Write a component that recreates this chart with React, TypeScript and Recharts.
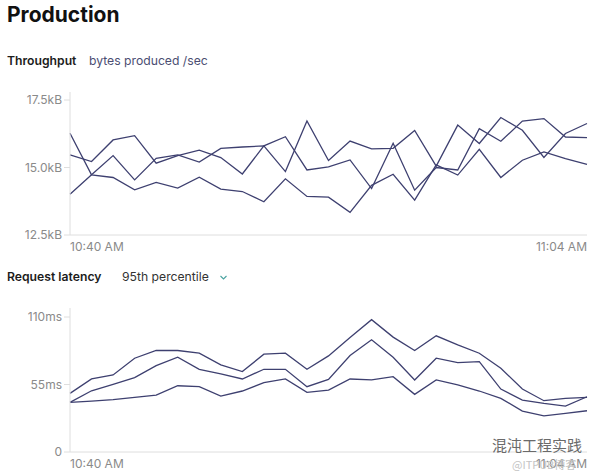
import React from 'react'
import { LineChart, Line, XAxis, YAxis } from 'recharts'

const times = [
  '10:40 AM', '10:41 AM', '10:42 AM', '10:43 AM', '10:44 AM', '10:45 AM', '10:46 AM',
  '10:47 AM', '10:48 AM', '10:49 AM', '10:50 AM', '10:51 AM', '10:52 AM', '10:53 AM',
  '10:54 AM', '10:55 AM', '10:56 AM', '10:57 AM', '10:58 AM', '10:59 AM', '11:00 AM',
  '11:01 AM', '11:02 AM', '11:03 AM', '11:04 AM',
]
const edgeTicks = ['10:40 AM', '11:04 AM']

// throughput, kB/sec
const throughputA = [
  16.27, 14.73, 14.63, 14.17, 14.45, 14.24, 14.64, 14.2, 14.11, 13.73, 14.58, 13.93, 13.9,
  13.34, 14.34, 14.75, 13.79, 15.1, 14.72, 15.67, 14.63, 15.27, 15.58, 15.33, 15.12,
]
const throughputB = [
  15.47, 15.22, 16.02, 16.18, 15.16, 15.44, 15.64, 15.37, 14.76, 15.8, 16.14, 14.91, 15.02,
  15.28, 14.22, 15.9, 14.16, 15.0, 14.91, 16.44, 15.97, 16.72, 16.81, 16.13, 16.11,
]
const throughputC = [
  14.01, 14.73, 15.44, 14.54, 15.34, 15.47, 15.2, 15.71, 15.76, 15.8, 14.85, 16.72, 15.26,
  15.98, 15.69, 15.71, 16.37, 15.05, 16.57, 15.89, 16.85, 16.38, 15.37, 16.26, 16.63,
]
const throughputTicks = [12.5, 15, 17.5]

// request latency p95, ms
const latencyHigh = [
  47.8, 59.5, 62.8, 76.4, 82.7, 82.7, 80.5, 71, 65.5, 79.7, 80.5, 67.4, 78.3,
  93.3, 107.8, 93.6, 82.7, 94.7, 87.3, 80.5, 68.2, 51.3, 41.8, 43.7, 44.5,
]
const latencyMid = [
  40.4, 49.9, 55.1, 60.6, 70.4, 77.2, 67.4, 63.6, 59.5, 67.4, 67.4, 53.2, 59.2,
  78.6, 91.4, 77.2, 58.7, 76.4, 72.9, 73.7, 51.3, 42.3, 39.6, 37.4, 45,
]
const latencyLow = [
  40.4, 41.5, 42.6, 44.5, 46.4, 54, 53.2, 45.6, 49.7, 56.5, 59.5, 48.6, 50.5,
  59.5, 58.7, 61.4, 47, 58.7, 54.6, 49.7, 43.7, 33.3, 29.5, 31.4, 33.6,
]
const latencyTicks = [0, 55, 110]

const throughputData = times.map((t, i) => ({
  time: t, a: throughputA[i], b: throughputB[i], c: throughputC[i],
}))
const latencyData = times.map((t, i) => ({
  time: t, high: latencyHigh[i], mid: latencyMid[i], low: latencyLow[i],
}))

const FONT = 'Inter, "Noto Sans", sans-serif'
const LINE = '#3e4070'
const AXIS = '#dedede'
const TICK = '#8a8a8a'

const TimeTick = (props: any) => {
  const { x, y, payload } = props
  const first = payload.value === edgeTicks[0]
  return (
    <text x={x} y={y + 8} textAnchor={first ? 'start' : 'end'} fill={TICK} fontSize={12} fontFamily={FONT}>
      {payload.value}
    </text>
  )
}

const chartMargin = { top: 7, right: 13, left: 0, bottom: 6 }

export default function App() {
  return (
    <div style={{ position: 'absolute', left: 0, top: 0, width: 600, height: 476, background: '#fff', fontFamily: FONT }}>
      <div style={{ position: 'absolute', left: 7, top: 4, fontSize: 21, fontWeight: 700, lineHeight: '21px', color: '#111' }}>
        Production
      </div>
      <div style={{ position: 'absolute', left: 7, top: 55, fontSize: 12.2, fontWeight: 600, lineHeight: '12px', color: '#1c1c1c' }}>
        Throughput
      </div>
      <div style={{ position: 'absolute', left: 89, top: 55, fontSize: 12.2, lineHeight: '12px', color: '#4b4e72' }}>
        bytes produced /sec
      </div>

      <div style={{ position: 'absolute', left: 0, top: 85 }}>
        <LineChart width={600} height={176} data={throughputData} margin={chartMargin}>
          <XAxis
            dataKey="time"
            ticks={edgeTicks}
            interval={0}
            tick={<TimeTick />}
            tickLine={false}
            axisLine={{ stroke: AXIS }}
            height={20}
          />
          <YAxis
            domain={[12.5, 17.5]}
            ticks={throughputTicks}
            tickFormatter={(v: number) => `${v.toFixed(1)}kB`}
            width={70}
            padding={{ top: 8 }}
            axisLine={{ stroke: AXIS }}
            tickLine={{ stroke: AXIS }}
            tick={{ fill: TICK, fontSize: 12, fontFamily: FONT }}
          />
          <Line dataKey="a" stroke={LINE} strokeWidth={1.3} dot={false} isAnimationActive={false} />
          <Line dataKey="b" stroke={LINE} strokeWidth={1.3} dot={false} isAnimationActive={false} />
          <Line dataKey="c" stroke={LINE} strokeWidth={1.3} dot={false} isAnimationActive={false} />
        </LineChart>
      </div>

      <div style={{ position: 'absolute', left: 7, top: 271, fontSize: 12.2, fontWeight: 600, lineHeight: '12px', color: '#1c1c1c' }}>
        Request latency
      </div>
      <div style={{ position: 'absolute', left: 122, top: 271, fontSize: 12.2, lineHeight: '12px', color: '#333' }}>
        95th percentile
      </div>
      <svg style={{ position: 'absolute', left: 219, top: 275 }} width={10} height={6}>
        <polyline points="1.5,1 4.5,4 7.5,1" fill="none" stroke="#4aa3a0" strokeWidth={1.1} />
      </svg>

      <div style={{ position: 'absolute', left: 0, top: 301 }}>
        <LineChart width={600} height={176} data={latencyData} margin={{ ...chartMargin, bottom: 5 }}>
          <XAxis
            dataKey="time"
            ticks={edgeTicks}
            interval={0}
            tick={<TimeTick />}
            tickLine={false}
            axisLine={{ stroke: AXIS }}
            height={20}
          />
          <YAxis
            domain={[0, 110]}
            ticks={latencyTicks}
            tickFormatter={(v: number) => (v === 0 ? '0' : `${v}ms`)}
            width={70}
            padding={{ top: 9 }}
            axisLine={{ stroke: AXIS }}
            tickLine={{ stroke: AXIS }}
            tick={{ fill: TICK, fontSize: 12, fontFamily: FONT }}
          />
          <Line dataKey="high" stroke={LINE} strokeWidth={1.3} dot={false} isAnimationActive={false} />
          <Line dataKey="mid" stroke={LINE} strokeWidth={1.3} dot={false} isAnimationActive={false} />
          <Line dataKey="low" stroke={LINE} strokeWidth={1.3} dot={false} isAnimationActive={false} />
        </LineChart>
      </div>

      <div style={{ position: 'absolute', left: 492, top: 437, fontSize: 15, lineHeight: '15px', color: '#6a6a6a', fontFamily: '"Noto Sans CJK SC", sans-serif', textShadow: '0 0 2px #fff' }}>
        混沌工程实践
      </div>
      <div style={{ position: 'absolute', left: 512, top: 459, fontSize: 11, lineHeight: '11px', color: '#c4c4c4', fontFamily: '"Noto Sans CJK SC", sans-serif' }}>
        @ITPUB博客
      </div>
    </div>
  )
}
